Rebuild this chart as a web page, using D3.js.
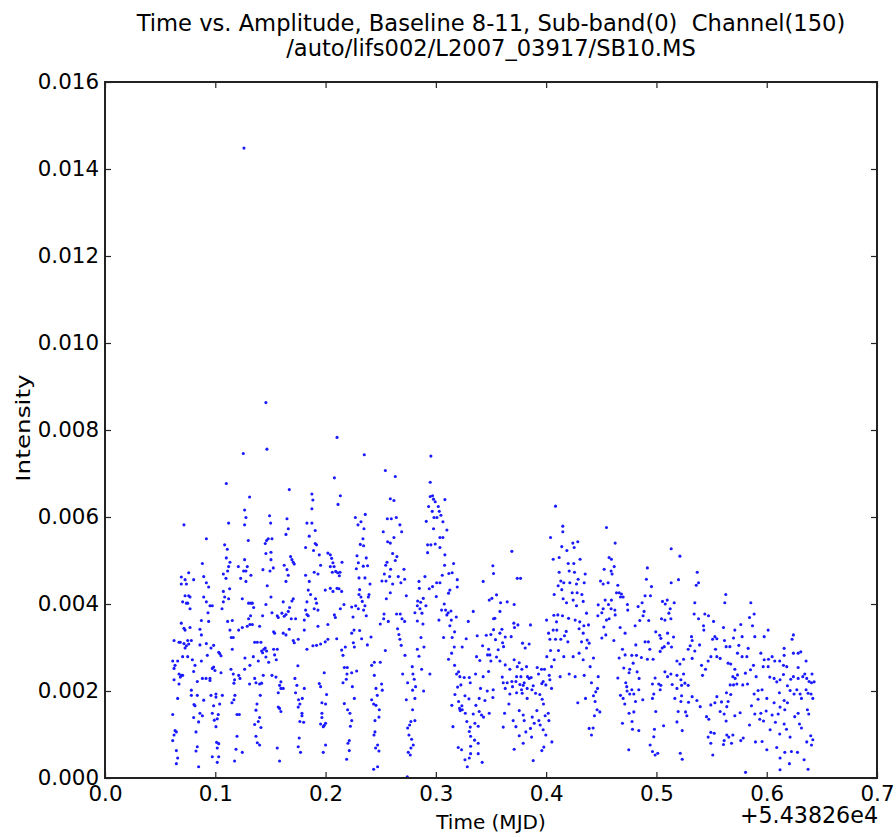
<!DOCTYPE html>
<html>
<head>
<meta charset="utf-8">
<script src="https://cdn.jsdelivr.net/npm/d3@7"></script>
<style>
  body { margin: 0; background: #fff; }
  svg { display: block; }
  text { font-family: "DejaVu Sans", sans-serif; fill: #000; }
</style>
</head>
<body>
<svg id="chart" width="896" height="837"></svg>
<script>
// Labels
const titleLines = [
  "Time vs. Amplitude, Baseline 8-11, Sub-band(0)  Channel(150)",
  "/auto/lifs002/L2007_03917/SB10.MS"
];
const xLabel = "Time (MJD)";
const yLabel = "Intensity";
const offsetLabel = "+5.43826e4";

// Axis ticks
const xTicks = [0.0, 0.1, 0.2, 0.3, 0.4, 0.5, 0.6, 0.7];
const yTicks = [0.000, 0.002, 0.004, 0.006, 0.008, 0.010, 0.012, 0.014, 0.016];

// Visibility samples: [time offset from MJD 54382.6 (days), amplitude]
const samplesEarly = [
[0.1260,0.01448],[0.1459,0.00863],[0.1468,0.00756],[0.1254,0.00746],[0.1100,0.00677],[0.1671,0.00663],[0.1311,0.00646],[0.1876,0.00653],[0.1885,0.00639],[0.1876,0.00619],[0.1266,0.00616],[0.1278,0.00599],[0.1492,0.00603],[0.1502,0.00586],[0.1266,0.00582],[0.1121,0.00586],[0.0716,0.00582],[0.1650,0.00596],[0.1662,0.00573],[0.1641,0.00560],[0.1831,0.00586],[0.1876,0.00586],[0.1906,0.00569],[0.1852,0.00556],[0.0919,0.00550],[0.1299,0.00546],[0.1465,0.00546],[0.1480,0.00550],[0.1514,0.00550],[0.1453,0.00539],[0.1085,0.00536],[0.1109,0.00526],[0.1819,0.00530],[0.1906,0.00539],[0.1918,0.00536],[0.1891,0.00523],[0.1459,0.00516],[0.1505,0.00519],[0.1100,0.00506],[0.1266,0.00502],[0.1133,0.00496],[0.1121,0.00486],[0.0883,0.00493],[0.1505,0.00502],[0.1683,0.00509],[0.1695,0.00502],[0.1707,0.00496],[0.1716,0.00492],[0.1625,0.00489],[0.1650,0.00479],[0.1209,0.00486],[0.1290,0.00486],[0.1257,0.00476],[0.1278,0.00476],[0.1112,0.00476],[0.1323,0.00466],[0.1073,0.00469],[0.1097,0.00459],[0.1230,0.00459],[0.1278,0.00452],[0.1432,0.00479],[0.1496,0.00476],[0.1526,0.00483],[0.1471,0.00442],[0.1662,0.00466],[0.1641,0.00452],[0.1819,0.00466],[0.1852,0.00452],[0.1843,0.00432],[0.1864,0.00422],[0.2021,0.00517],[0.1943,0.00513],[0.1955,0.00489],[0.1897,0.00473],[0.1931,0.00469],[0.1997,0.00432],[0.0692,0.00462],[0.0726,0.00456],[0.0692,0.00446],[0.0738,0.00446],[0.0759,0.00472],[0.0804,0.00456],[0.0895,0.00463],[0.0919,0.00449],[0.0940,0.00439],
[0.0726,0.00419],[0.0759,0.00419],[0.0771,0.00416],[0.0704,0.00405],[0.0738,0.00402],[0.0750,0.00402],[0.0771,0.00389],[0.0895,0.00416],[0.0952,0.00396],[0.0973,0.00396],[0.0919,0.00405],[0.1073,0.00405],[0.1085,0.00416],[0.1073,0.00429],[0.1130,0.00435],[0.1121,0.00412],[0.1245,0.00412],[0.1302,0.00402],[0.1323,0.00402],[0.1336,0.00402],[0.1348,0.00392],[0.1459,0.00399],[0.1505,0.00416],[0.1616,0.00405],[0.1674,0.00392],[0.1662,0.00383],[0.1707,0.00412],[0.1695,0.00407],[0.1831,0.00405],[0.1819,0.00386],[0.1831,0.00376],[0.1843,0.00373],[0.1909,0.00412],[0.1918,0.00402],[0.1897,0.00389],[0.1931,0.00386],[0.0934,0.00380],[0.0874,0.00362],[0.0940,0.00360],[0.1061,0.00389],[0.1112,0.00360],[0.1154,0.00362],[0.1320,0.00373],[0.1302,0.00366],[0.1314,0.00353],[0.1290,0.00349],[0.1336,0.00353],[0.1429,0.00373],[0.1514,0.00380],[0.1562,0.00373],[0.1571,0.00369],[0.1604,0.00379],[0.1625,0.00372],[0.1641,0.00376],[0.1689,0.00366],[0.1728,0.00366],[0.1807,0.00363],[0.1931,0.00349],[0.2021,0.00353],[0.0692,0.00356],[0.0716,0.00344],[0.0726,0.00340],[0.0771,0.00346],[0.0861,0.00342],[0.0874,0.00329],[0.1133,0.00340],[0.1145,0.00323],[0.1163,0.00323],[0.1212,0.00340],[0.1245,0.00346],[0.1402,0.00349],[0.1529,0.00336],[0.1538,0.00333],[0.1616,0.00333],[0.1641,0.00329],[0.1671,0.00342],[0.1707,0.00316],[0.1716,0.00311],[0.1752,0.00319],[0.1807,0.00340],[0.1831,0.00296],[0.1885,0.00304],[0.1918,0.00305],[0.1955,0.00308],[0.1997,0.00313],[0.2021,0.00319],
[0.0626,0.00316],[0.0671,0.00312],[0.0683,0.00312],[0.0716,0.00309],[0.0726,0.00299],[0.0738,0.00304],[0.0759,0.00308],[0.0750,0.00316],[0.0783,0.00316],[0.0861,0.00306],[0.0919,0.00309],[0.0961,0.00299],[0.0985,0.00305],[0.1031,0.00289],[0.1052,0.00281],[0.1040,0.00286],[0.1154,0.00296],[0.1357,0.00312],[0.1381,0.00312],[0.1414,0.00312],[0.1441,0.00296],[0.1420,0.00292],[0.1453,0.00299],[0.1465,0.00292],[0.1459,0.00278],[0.1529,0.00296],[0.1562,0.00296],[0.1538,0.00283],[0.1553,0.00272],[0.1269,0.00276],[0.1345,0.00279],[0.1390,0.00269],[0.1429,0.00288],[0.1484,0.00266],[0.0614,0.00269],[0.0659,0.00269],[0.0635,0.00259],[0.0626,0.00252],[0.0704,0.00279],[0.0750,0.00279],[0.0792,0.00272],[0.0816,0.00259],[0.0874,0.00269],[0.0928,0.00282],[0.0985,0.00255],[0.0973,0.00252],[0.0997,0.00247],[0.1142,0.00250],[0.1163,0.00239],[0.1212,0.00236],[0.1224,0.00229],[0.1266,0.00250],[0.1314,0.00259],
[0.0626,0.00226],[0.0671,0.00239],[0.0692,0.00236],[0.0704,0.00236],[0.0683,0.00232],[0.0671,0.00216],[0.0804,0.00245],[0.0837,0.00222],[0.0883,0.00229],[0.0916,0.00229],[0.0952,0.00229],[0.0952,0.00224],[0.1052,0.00242],[0.1175,0.00226],[0.1169,0.00218],[0.1311,0.00216],[0.1357,0.00229],[0.1369,0.00219],[0.1402,0.00216],[0.1420,0.00218],[0.1435,0.00236],[0.1514,0.00236],[0.1550,0.00232],[0.1595,0.00221],[0.1583,0.00213],[0.1571,0.00196],[0.1616,0.00206],[0.1595,0.00206],[0.1722,0.00229],[0.1740,0.00213],[0.1728,0.00196],[0.1749,0.00258],[0.1807,0.00206],[0.1943,0.00217],[0.1955,0.00210],[0.2009,0.00192],[0.1988,0.00242],[0.0659,0.00183],[0.0783,0.00202],[0.0783,0.00190],[0.0837,0.00190],[0.0895,0.00179],[0.0961,0.00190],[0.1006,0.00193],[0.1006,0.00186],[0.1064,0.00190],[0.0985,0.00166],[0.1040,0.00170],[0.1151,0.00173],[0.1178,0.00190],[0.1169,0.00180],[0.1378,0.00170],[0.1408,0.00190],[0.1571,0.00163],[0.1583,0.00160],[0.1595,0.00153],[0.1755,0.00180],[0.1789,0.00183],[0.1767,0.00170],[0.1752,0.00163],[0.1786,0.00149],[0.1786,0.00143],[0.1967,0.00173],[0.2000,0.00170],[0.1967,0.00149],[0.1967,0.00139],[0.1955,0.00124],[0.1988,0.00121],[0.1979,0.00118],[0.2000,0.00126],[0.0807,0.00169],[0.0816,0.00166],
[0.0614,0.00146],[0.0804,0.00139],[0.0849,0.00129],[0.0861,0.00149],[0.0883,0.00143],[0.0973,0.00149],[0.1027,0.00146],[0.1018,0.00136],[0.0991,0.00133],[0.1006,0.00118],[0.1197,0.00146],[0.1218,0.00146],[0.1369,0.00156],[0.1402,0.00139],[0.1390,0.00130],[0.1357,0.00123],[0.1414,0.00116],[0.1767,0.00130],[0.1801,0.00128],[0.0635,0.00109],[0.0647,0.00106],[0.0626,0.00099],[0.0614,0.00086],[0.0825,0.00106],[0.1197,0.00096],[0.1369,0.00096],[0.1381,0.00081],[0.1402,0.00076],[0.1012,0.00082],[0.1031,0.00079],[0.1018,0.00069],[0.1761,0.00092],[0.1752,0.00072],[0.2000,0.00076],[0.0647,0.00063],[0.0659,0.00046],[0.0647,0.00033],[0.0837,0.00072],[0.0825,0.00062],[0.0849,0.00026],[0.0973,0.00049],[0.1031,0.00049],[0.1018,0.00036],[0.1188,0.00066],[0.1245,0.00059],[0.1175,0.00039],[0.1562,0.00069],[0.1583,0.00039],[0.1773,0.00059],[0.1979,0.00059]
];

const samplesMid = [
[0.2104,0.00783],[0.2351,0.00743],[0.2080,0.00690],[0.2542,0.00707],[0.2632,0.00693],[0.2955,0.00740],[0.2949,0.00680],[0.2134,0.00649],[0.2113,0.00629],[0.2587,0.00642],[0.2620,0.00638],[0.2949,0.00647],[0.2970,0.00649],[0.2979,0.00641],[0.2994,0.00635],[0.3082,0.00640],[0.2934,0.00624],[0.2967,0.00613],[0.3022,0.00624],[0.3031,0.00613],[0.3046,0.00604],[0.3010,0.00599],[0.2983,0.00599],[0.2913,0.00590],[0.3064,0.00589],[0.3100,0.00570],[0.2979,0.00573],[0.3037,0.00553],[0.3064,0.00553],[0.2925,0.00536],[0.2955,0.00536],[0.2994,0.00538],[0.3037,0.00530],[0.2925,0.00518],[0.3082,0.00513],[0.3079,0.00489],[0.3161,0.00493],[0.3118,0.00470],[0.3148,0.00472],[0.3058,0.00466],[0.3194,0.00456],[0.3194,0.00439],[0.3127,0.00432],[0.3115,0.00425],[0.3037,0.00449],[0.3007,0.00449],[0.2970,0.00440],[0.2940,0.00435],[0.2901,0.00463],[0.2847,0.00452],[0.2850,0.00436],[0.2886,0.00413],[0.2862,0.00404],[0.2835,0.00407],[0.2832,0.00396],[0.2856,0.00389],[0.2874,0.00379],[0.2810,0.00380],[0.2910,0.00396],[0.3004,0.00417],[0.3076,0.00400],[0.3052,0.00386],[0.3088,0.00386],[0.3112,0.00380],[0.3137,0.00384],[0.3100,0.00375],[0.3140,0.00363],[0.3185,0.00370],[0.3127,0.00350],[0.3170,0.00336],[0.3028,0.00363],[0.2883,0.00354],[0.2832,0.00361],[0.2865,0.00323],[0.2832,0.00296],[0.2892,0.00301],[0.2847,0.00280],[0.3070,0.00323],[0.3148,0.00323],[0.3239,0.00301],[0.3167,0.00301],[0.3143,0.00287],[0.3115,0.00273],[0.3170,0.00259],[0.3275,0.00320],[0.3294,0.00360],[0.3339,0.00383],[0.3375,0.00327],[0.3429,0.00452],[0.3517,0.00488],[0.3523,0.00470],[0.3484,0.00409],[0.3508,0.00413],[0.3523,0.00366],[0.3523,0.00341],[0.3499,0.00330],[0.3457,0.00328],[0.3424,0.00304],[0.3478,0.00296],[0.3469,0.00283],[0.3490,0.00283],[0.3499,0.00269],[0.3399,0.00270],[0.3369,0.00279],[0.3478,0.00245],[0.3429,0.00233],[0.3466,0.00200],[0.3520,0.00203],[0.3517,0.00185],[0.3405,0.00206],[0.3445,0.00178],[0.3393,0.00183],[0.3363,0.00167],[0.3393,0.00153],[0.3414,0.00145],[0.3432,0.00140],[0.3484,0.00149],[0.3339,0.00147],[0.3354,0.00126],[0.3384,0.00119],[0.3312,0.00117],[0.3303,0.00107],[0.3315,0.00096],[0.3351,0.00087],[0.3384,0.00080],[0.3315,0.00073],[0.3384,0.00056],[0.3420,0.00036],[0.3315,0.00056],[0.3303,0.00046],[0.3264,0.00042],[0.3233,0.00065],[0.3203,0.00070],[0.3285,0.00026],[0.3281,0.00130],[0.3267,0.00149],[0.3239,0.00157],[0.3221,0.00155],[0.3215,0.00160],[0.3236,0.00166],[0.3145,0.00167],[0.3206,0.00176],[0.3173,0.00192],[0.3197,0.00209],[0.3227,0.00214],[0.3264,0.00189],[0.3300,0.00182],[0.3312,0.00219],[0.3303,0.00231],[0.3257,0.00231],[0.3218,0.00233],[0.3188,0.00239],[0.3206,0.00244],[0.3155,0.00118],[0.3360,0.00239],
[0.2055,0.00505],[0.2067,0.00495],[0.2043,0.00486],[0.2077,0.00486],[0.2061,0.00473],[0.2092,0.00475],[0.2110,0.00472],[0.2131,0.00473],[0.2125,0.00465],[0.2149,0.00496],[0.2043,0.00513],[0.2043,0.00436],[0.2067,0.00429],[0.2104,0.00436],[0.2122,0.00435],[0.2146,0.00429],[0.2167,0.00399],[0.2134,0.00389],[0.2080,0.00375],[0.2089,0.00369],[0.2101,0.00320],[0.2146,0.00294],[0.2158,0.00282],[0.2179,0.00301],[0.2170,0.00254],[0.2194,0.00239],[0.2158,0.00219],[0.2188,0.00227],[0.2237,0.00242],[0.2282,0.00246],[0.2197,0.00254],[0.2243,0.00210],[0.2261,0.00183],[0.2170,0.00171],[0.2200,0.00157],[0.2221,0.00149],[0.2237,0.00132],[0.2225,0.00119],[0.2215,0.00086],[0.2203,0.00080],[0.2215,0.00063],[0.2191,0.00043],[0.2237,0.00333],[0.2258,0.00340],[0.2252,0.00311],[0.2261,0.00301],[0.2309,0.00339],[0.2327,0.00320],[0.2379,0.00306],[0.2412,0.00324],[0.2237,0.00393],[0.2297,0.00389],[0.2249,0.00370],[0.2273,0.00396],[0.2333,0.00406],[0.2357,0.00396],[0.2369,0.00373],[0.2345,0.00386],[0.2321,0.00416],[0.2309,0.00433],[0.2303,0.00422],[0.2388,0.00416],[0.2394,0.00422],[0.2403,0.00446],[0.2357,0.00460],[0.2303,0.00460],[0.2279,0.00481],[0.2297,0.00495],[0.2285,0.00511],[0.2369,0.00506],[0.2381,0.00488],[0.2342,0.00487],[0.2345,0.00534],[0.2315,0.00537],[0.2339,0.00550],[0.2270,0.00599],[0.2294,0.00582],[0.2321,0.00589],[0.2360,0.00606],[0.2348,0.00573],[0.2523,0.00566],[0.2560,0.00596],[0.2596,0.00596],[0.2641,0.00599],[0.2674,0.00582],[0.2690,0.00566],[0.2620,0.00553],[0.2563,0.00543],[0.2587,0.00540],[0.2608,0.00516],[0.2632,0.00500],[0.2647,0.00509],[0.2557,0.00496],[0.2545,0.00489],[0.2590,0.00480],[0.2711,0.00480],[0.2533,0.00469],[0.2581,0.00463],[0.2659,0.00463],[0.2717,0.00457],[0.2683,0.00449],[0.2548,0.00453],[0.2511,0.00453],[0.2608,0.00446],[0.2587,0.00426],[0.2551,0.00412],[0.2732,0.00419],[0.2644,0.00377],[0.2677,0.00377],[0.2693,0.00366],[0.2717,0.00360],[0.2653,0.00343],[0.2665,0.00330],[0.2674,0.00319],[0.2686,0.00305],[0.2720,0.00282],[0.2569,0.00360],[0.2530,0.00377],[0.2527,0.00366],[0.2496,0.00354],[0.2542,0.00293],[0.2496,0.00266],[0.2442,0.00266],[0.2418,0.00259],[0.2442,0.00236],[0.2457,0.00206],[0.2508,0.00216],[0.2514,0.00202],[0.2469,0.00190],[0.2418,0.00180],[0.2436,0.00170],[0.2457,0.00167],[0.2487,0.00157],[0.2448,0.00132],[0.2484,0.00140],[0.2448,0.00106],[0.2439,0.00099],[0.2472,0.00076],[0.2454,0.00069],[0.2484,0.00062],[0.2436,0.00020],[0.2472,0.00026],[0.2699,0.00239],[0.2744,0.00219],[0.2792,0.00239],[0.2804,0.00227],[0.2786,0.00256],[0.2816,0.00210],[0.2789,0.00202],[0.2810,0.00183],[0.2732,0.00180],[0.2789,0.00157],[0.2810,0.00132],[0.2774,0.00130],[0.2762,0.00122],[0.2744,0.00115],[0.2756,0.00099],[0.2780,0.00089],[0.2795,0.00076],[0.2774,0.00069],[0.2750,0.00059],[0.2768,0.00053],[0.2741,0.00003],[0.2889,0.00200],[0.2946,0.00239],[0.2871,0.00250]
];

const samplesLate = [
[0.4085,0.00625],[0.4151,0.00579],[0.4151,0.00566],[0.4040,0.00553],[0.4547,0.00576],[0.4626,0.00540],[0.4142,0.00532],[0.4242,0.00540],[0.4287,0.00543],[0.4254,0.00530],[0.4188,0.00523],[0.4118,0.00507],[0.4064,0.00503],[0.4308,0.00503],[0.4571,0.00507],[0.4592,0.00503],[0.4200,0.00493],[0.4251,0.00493],[0.4617,0.00486],[0.4526,0.00480],[0.4589,0.00476],[0.4598,0.00469],[0.4918,0.00483],[0.4209,0.00476],[0.4257,0.00473],[0.4118,0.00473],[0.4354,0.00469],[0.4290,0.00457],[0.4275,0.00446],[0.4345,0.00449],[0.4215,0.00449],[0.4160,0.00449],[0.4133,0.00453],[0.4109,0.00442],[0.4142,0.00433],[0.4073,0.00422],[0.4154,0.00412],[0.4185,0.00403],[0.4236,0.00426],[0.4281,0.00426],[0.4324,0.00422],[0.4245,0.00409],[0.4336,0.00406],[0.4275,0.00396],[0.4493,0.00453],[0.4517,0.00446],[0.4562,0.00449],[0.4650,0.00443],[0.4638,0.00426],[0.4662,0.00426],[0.4683,0.00423],[0.4674,0.00416],[0.4698,0.00416],[0.4535,0.00409],[0.4592,0.00409],[0.4565,0.00399],[0.4589,0.00389],[0.4623,0.00386],[0.4626,0.00375],[0.4571,0.00366],[0.4547,0.00363],[0.4517,0.00389],[0.4505,0.00380],[0.4469,0.00373],[0.4472,0.00398],[0.4523,0.00347],[0.4505,0.00322],[0.4541,0.00329],[0.4909,0.00457],[0.4955,0.00440],[0.4946,0.00419],[0.4897,0.00419],[0.4870,0.00403],[0.4834,0.00394],[0.4888,0.00383],[0.4879,0.00373],[0.4849,0.00362],[0.4930,0.00362],[0.4737,0.00399],[0.4740,0.00386],[0.4807,0.00350],[0.4716,0.00333],[0.4671,0.00346],[0.4614,0.00316],[0.4813,0.00306],[0.4897,0.00313],[0.4927,0.00313],[0.4994,0.00336],[0.5030,0.00328],[0.4692,0.00296],[0.4662,0.00276],[0.4716,0.00283],[0.4777,0.00282],[0.4819,0.00282],[0.4864,0.00277],[0.4940,0.00296],[0.4970,0.00273],[0.4918,0.00273],[0.4789,0.00264],[0.4704,0.00253],[0.4758,0.00250],[0.4650,0.00230],[0.4722,0.00219],[0.4752,0.00242],[0.4825,0.00244],[0.4843,0.00229],[0.4988,0.00230],[0.5021,0.00216],[0.4964,0.00216],[0.4731,0.00210],[0.4734,0.00200],[0.4777,0.00203],[0.4758,0.00193],[0.4795,0.00193],[0.4840,0.00203],[0.4810,0.00176],[0.4674,0.00190],[0.4698,0.00183],[0.4713,0.00170],[0.4876,0.00180],[0.4964,0.00183],[0.4976,0.00193],[0.4994,0.00153],[0.4752,0.00149],[0.4795,0.00152],[0.4779,0.00130],[0.4692,0.00126],[0.4783,0.00112],[0.4840,0.00109],[0.4982,0.00112],[0.4976,0.00095],[0.4943,0.00076],[0.4964,0.00061],[0.4988,0.00053],[0.5012,0.00057],[0.4749,0.00065],[0.4429,0.00189],[0.4450,0.00198],[0.4411,0.00219],[0.4399,0.00256],[0.4429,0.00276],[0.4472,0.00233],[0.4466,0.00206],[0.4444,0.00176],[0.4438,0.00143],[0.4462,0.00157],[0.4487,0.00152],[0.4390,0.00114],[0.4411,0.00099],[0.4426,0.00115],[0.4366,0.00299],[0.4390,0.00310],[0.4372,0.00317],[0.4342,0.00350],[0.4384,0.00352],[0.4366,0.00379],[0.4305,0.00359],[0.4263,0.00363],[0.4299,0.00343],[0.4336,0.00333],[0.4321,0.00313],[0.4299,0.00287],[0.4336,0.00272],[0.4345,0.00236],[0.4263,0.00233],[0.4209,0.00239],[0.4287,0.00173],[0.4357,0.00183],[0.4245,0.00279],[0.4160,0.00279],[0.4127,0.00233],[0.4197,0.00313],[0.4166,0.00327],[0.4182,0.00337],[0.4133,0.00319],[0.4085,0.00319],[0.4097,0.00340],[0.4094,0.00359],[0.4070,0.00374],[0.4106,0.00375],[0.4148,0.00373],[0.4203,0.00367],[0.4064,0.00340],[0.4022,0.00333],[0.4034,0.00319],[0.4004,0.00363],[0.4040,0.00293],[0.4049,0.00256],[0.4006,0.00279],[0.4073,0.00272],[0.4112,0.00293],[0.4034,0.00226],[0.3997,0.00214],[0.4049,0.00206],[0.4028,0.00236],[0.3985,0.00250],[0.3958,0.00250],[0.3919,0.00254],[0.3931,0.00239],[0.3973,0.00222],[0.3961,0.00217],[0.3864,0.00231],[0.3846,0.00229],[0.3831,0.00233],[0.3822,0.00256],[0.3780,0.00250],[0.3738,0.00256],[0.3756,0.00265],[0.3710,0.00272],[0.3732,0.00233],[0.3771,0.00233],[0.3801,0.00219],[0.3792,0.00213],[0.3762,0.00215],[0.3726,0.00222],[0.3689,0.00222],[0.3695,0.00210],[0.3777,0.00203],[0.3828,0.00206],[0.3883,0.00212],[0.3871,0.00203],[0.3904,0.00195],[0.3943,0.00192],[0.3828,0.00183],[0.3783,0.00195],[0.3732,0.00196],[0.3671,0.00193],[0.3629,0.00206],[0.3611,0.00219],[0.3647,0.00219],[0.3602,0.00232],[0.3671,0.00250],[0.3629,0.00260],[0.3581,0.00269],[0.3550,0.00278],[0.3565,0.00295],[0.3614,0.00302],[0.3605,0.00311],[0.3629,0.00324],[0.3581,0.00333],[0.3541,0.00318],[0.3599,0.00342],[0.3683,0.00325],[0.3707,0.00356],[0.3713,0.00346],[0.3689,0.00521],[0.3738,0.00459],[0.3768,0.00459],[0.3710,0.00399],[0.3647,0.00405],[0.3587,0.00403],[0.3581,0.00383],[0.3550,0.00421],[0.3535,0.00367],[0.3786,0.00310],[0.3810,0.00299],[0.3846,0.00308],[0.3858,0.00352],[0.3744,0.00352],[0.3662,0.00170],[0.3623,0.00149],[0.3611,0.00117],[0.3701,0.00132],[0.3726,0.00118],[0.3756,0.00155],[0.3792,0.00145],[0.3801,0.00132],[0.3816,0.00106],[0.3756,0.00097],[0.3792,0.00080],[0.3710,0.00066],[0.3868,0.00094],[0.3858,0.00114],[0.3892,0.00126],[0.3874,0.00140],[0.3916,0.00155],[0.3934,0.00132],[0.3946,0.00122],[0.3976,0.00170],[0.3964,0.00181],[0.3991,0.00143],[0.4019,0.00149],[0.4025,0.00132],[0.3973,0.00111],[0.3997,0.00099],[0.3979,0.00071],[0.3961,0.00063],[0.3883,0.00040],[0.4052,0.00083]
];

const samplesEnd = [
[0.5134,0.00527],[0.5213,0.00510],[0.5200,0.00456],[0.5134,0.00449],[0.5370,0.00473],[0.5382,0.00449],[0.5361,0.00443],[0.5629,0.00422],[0.5620,0.00403],[0.5856,0.00403],[0.5055,0.00406],[0.5098,0.00409],[0.5080,0.00400],[0.5161,0.00403],[0.5125,0.00389],[0.5113,0.00379],[0.5046,0.00366],[0.5077,0.00363],[0.5131,0.00366],[0.5348,0.00403],[0.5342,0.00377],[0.5382,0.00366],[0.5439,0.00377],[0.5472,0.00373],[0.5518,0.00360],[0.5427,0.00350],[0.5430,0.00340],[0.5608,0.00346],[0.5844,0.00369],[0.5886,0.00377],[0.5871,0.00350],[0.6013,0.00340],[0.5977,0.00325],[0.5892,0.00325],[0.5777,0.00325],[0.5699,0.00322],[0.5711,0.00340],[0.5765,0.00353],[0.5530,0.00325],[0.5548,0.00320],[0.5617,0.00316],[0.5509,0.00319],[0.5536,0.00296],[0.5548,0.00279],[0.5578,0.00275],[0.5494,0.00279],[0.5632,0.00302],[0.5666,0.00302],[0.5650,0.00264],[0.5318,0.00325],[0.5324,0.00316],[0.5306,0.00304],[0.5391,0.00306],[0.5348,0.00292],[0.5288,0.00296],[0.5246,0.00273],[0.5324,0.00275],[0.5469,0.00269],[0.5409,0.00259],[0.5445,0.00250],[0.5418,0.00236],[0.5186,0.00269],[0.5213,0.00262],[0.5137,0.00301],[0.5155,0.00324],[0.5107,0.00310],[0.5071,0.00302],[0.5052,0.00299],[0.5101,0.00333],[0.5034,0.00291],[0.5040,0.00321],[0.5077,0.00244],[0.5101,0.00233],[0.5131,0.00239],[0.5186,0.00236],[0.5246,0.00239],[0.5222,0.00226],[0.5258,0.00218],[0.5288,0.00213],[0.5228,0.00213],[0.5143,0.00215],[0.5186,0.00206],[0.5040,0.00213],[0.5034,0.00203],[0.5167,0.00183],[0.5228,0.00189],[0.5222,0.00176],[0.5291,0.00174],[0.5324,0.00187],[0.5367,0.00178],[0.5264,0.00152],[0.5276,0.00143],[0.5197,0.00153],[0.5186,0.00129],[0.5234,0.00109],[0.5065,0.00120],[0.5397,0.00164],[0.5454,0.00141],[0.5475,0.00135],[0.5493,0.00168],[0.5530,0.00173],[0.5548,0.00187],[0.5578,0.00153],[0.5590,0.00175],[0.5635,0.00196],[0.5674,0.00192],[0.5650,0.00176],[0.5638,0.00164],[0.5632,0.00131],[0.5614,0.00147],[0.5669,0.00214],[0.5699,0.00214],[0.5729,0.00216],[0.5783,0.00214],[0.5826,0.00216],[0.5714,0.00229],[0.5693,0.00233],[0.5735,0.00237],[0.5807,0.00241],[0.5853,0.00249],[0.5904,0.00233],[0.5711,0.00250],[0.5674,0.00262],[0.5777,0.00279],[0.5820,0.00279],[0.5735,0.00287],[0.5747,0.00305],[0.5832,0.00298],[0.5880,0.00259],[0.5947,0.00287],[0.5977,0.00272],[0.5968,0.00256],[0.6013,0.00256],[0.6016,0.00273],[0.6049,0.00279],[0.6073,0.00269],[0.6028,0.00232],[0.6067,0.00229],[0.6091,0.00221],[0.6121,0.00226],[0.6158,0.00298],[0.6182,0.00256],[0.6152,0.00259],[0.6152,0.00238],[0.6118,0.00269],[0.6218,0.00227],[0.6242,0.00233],[0.6188,0.00212],[0.6285,0.00254],[0.6327,0.00233],[0.6345,0.00239],[0.6363,0.00229],[0.6384,0.00222],[0.6411,0.00239],[0.6406,0.00219],[0.6430,0.00221],[0.6357,0.00203],[0.6375,0.00195],[0.6402,0.00193],[0.6418,0.00183],[0.6369,0.00157],[0.6381,0.00147],[0.6285,0.00229],[0.6273,0.00203],[0.6303,0.00193],[0.6315,0.00183],[0.6248,0.00193],[0.6212,0.00201],[0.6230,0.00319],[0.6242,0.00329],[0.6158,0.00282],[0.6242,0.00287],[0.6285,0.00287],[0.6309,0.00290],[0.6357,0.00269],[0.5886,0.00193],[0.5922,0.00201],[0.5958,0.00203],[0.5922,0.00181],[0.6001,0.00183],[0.6067,0.00173],[0.6115,0.00196],[0.6158,0.00178],[0.6188,0.00173],[0.6164,0.00157],[0.6121,0.00163],[0.6104,0.00147],[0.6049,0.00145],[0.5995,0.00154],[0.5947,0.00149],[0.5892,0.00147],[0.5862,0.00166],[0.5844,0.00122],[0.5937,0.00135],[0.5971,0.00131],[0.6031,0.00111],[0.6079,0.00128],[0.6118,0.00101],[0.6158,0.00124],[0.6179,0.00112],[0.6212,0.00094],[0.6254,0.00141],[0.6285,0.00149],[0.6297,0.00124],[0.6315,0.00115],[0.6363,0.00083],[0.6399,0.00097],[0.6418,0.00088],[0.6406,0.00076],[0.6224,0.00061],[0.6339,0.00042],[0.6279,0.00059],[0.6206,0.00033],[0.6121,0.00046],[0.6091,0.00070],[0.6164,0.00059],[0.6121,0.00019],[0.6375,0.00020],[0.6001,0.00065],[0.5958,0.00084],[0.5898,0.00083],[0.5808,0.00013],[0.5787,0.00092],[0.5765,0.00086],[0.5693,0.00099],[0.5656,0.00094],[0.5638,0.00099],[0.5614,0.00086],[0.5608,0.00077],[0.5681,0.00080],[0.5711,0.00143],[0.5759,0.00150],[0.5493,0.00105],[0.5524,0.00103],[0.5469,0.00094],[0.5493,0.00080],[0.5511,0.00053],[0.5216,0.00057],[0.5234,0.00043]
];

const samples = samplesEarly.concat(samplesMid, samplesLate, samplesEnd);

// Layout
const W = 896, H = 837;
const plot = { left: 105, right: 877, top: 82, bottom: 778 };

const svg = d3.select("#chart");
svg.append("rect").attr("width", W).attr("height", H).attr("fill", "#fff");

const x = d3.scaleLinear().domain([0, 0.7]).range([plot.left, plot.right]);
const y = d3.scaleLinear().domain([0, 0.016]).range([plot.bottom, plot.top]);

// Scatter points
svg.append("g")
  .selectAll("circle")
  .data(samples)
  .join("circle")
  .attr("cx", d => x(d[0]))
  .attr("cy", d => y(d[1]))
  .attr("r", 1.55)
  .attr("fill", "#1a1aff");

// Axes with inward ticks on all four sides
const tickLen = 6;
const tickFont = 21.4;

const gx = svg.append("g")
  .attr("transform", `translate(0,${plot.bottom})`)
  .call(d3.axisBottom(x).tickValues(xTicks).tickFormat(d3.format(".1f"))
    .tickSizeInner(-tickLen).tickSizeOuter(0).tickPadding(8));
const gxTop = svg.append("g")
  .attr("transform", `translate(0,${plot.top})`)
  .call(d3.axisTop(x).tickValues(xTicks).tickFormat("")
    .tickSizeInner(-tickLen).tickSizeOuter(0));
const gy = svg.append("g")
  .attr("transform", `translate(${plot.left},0)`)
  .call(d3.axisLeft(y).tickValues(yTicks).tickFormat(d3.format(".3f"))
    .tickSizeInner(-tickLen).tickSizeOuter(0).tickPadding(6));
const gyRight = svg.append("g")
  .attr("transform", `translate(${plot.right},0)`)
  .call(d3.axisRight(y).tickValues(yTicks).tickFormat("")
    .tickSizeInner(-tickLen).tickSizeOuter(0));

[gx, gxTop, gy, gyRight].forEach(g => {
  g.select(".domain").remove();
  g.selectAll(".tick line").attr("stroke", "#222").attr("stroke-width", 1.2);
  g.selectAll(".tick text")
    .attr("font-family", "DejaVu Sans, sans-serif")
    .attr("font-size", tickFont)
    .attr("fill", "#000");
});

// Frame
svg.append("rect")
  .attr("x", plot.left).attr("y", plot.top)
  .attr("width", plot.right - plot.left)
  .attr("height", plot.bottom - plot.top)
  .attr("fill", "none")
  .attr("stroke", "#222")
  .attr("stroke-width", 2);

// Title (two centred lines, keeping the double space)
const cx = (plot.left + plot.right) / 2;
svg.append("g").selectAll("text")
  .data(titleLines)
  .join("text")
  .attr("x", cx)
  .attr("y", (d, i) => 31 + i * 25)
  .attr("text-anchor", "middle")
  .attr("font-size", 22.6)
  .attr("xml:space", "preserve")
  .style("white-space", "pre")
  .text(d => d);

// Axis labels
svg.append("text")
  .attr("x", cx).attr("y", 829)
  .attr("text-anchor", "middle")
  .attr("font-size", 20)
  .text(xLabel);

svg.append("text")
  .attr("x", plot.right + 1).attr("y", 823)
  .attr("text-anchor", "end")
  .attr("font-size", 22.2)
  .text(offsetLabel);

svg.append("text")
  .attr("transform", `translate(30,${(plot.top + plot.bottom) / 2 - 2}) rotate(-90) scale(1.3,1)`)
  .attr("text-anchor", "middle")
  .attr("font-size", 19)
  .text(yLabel);
</script>
</body>
</html>
